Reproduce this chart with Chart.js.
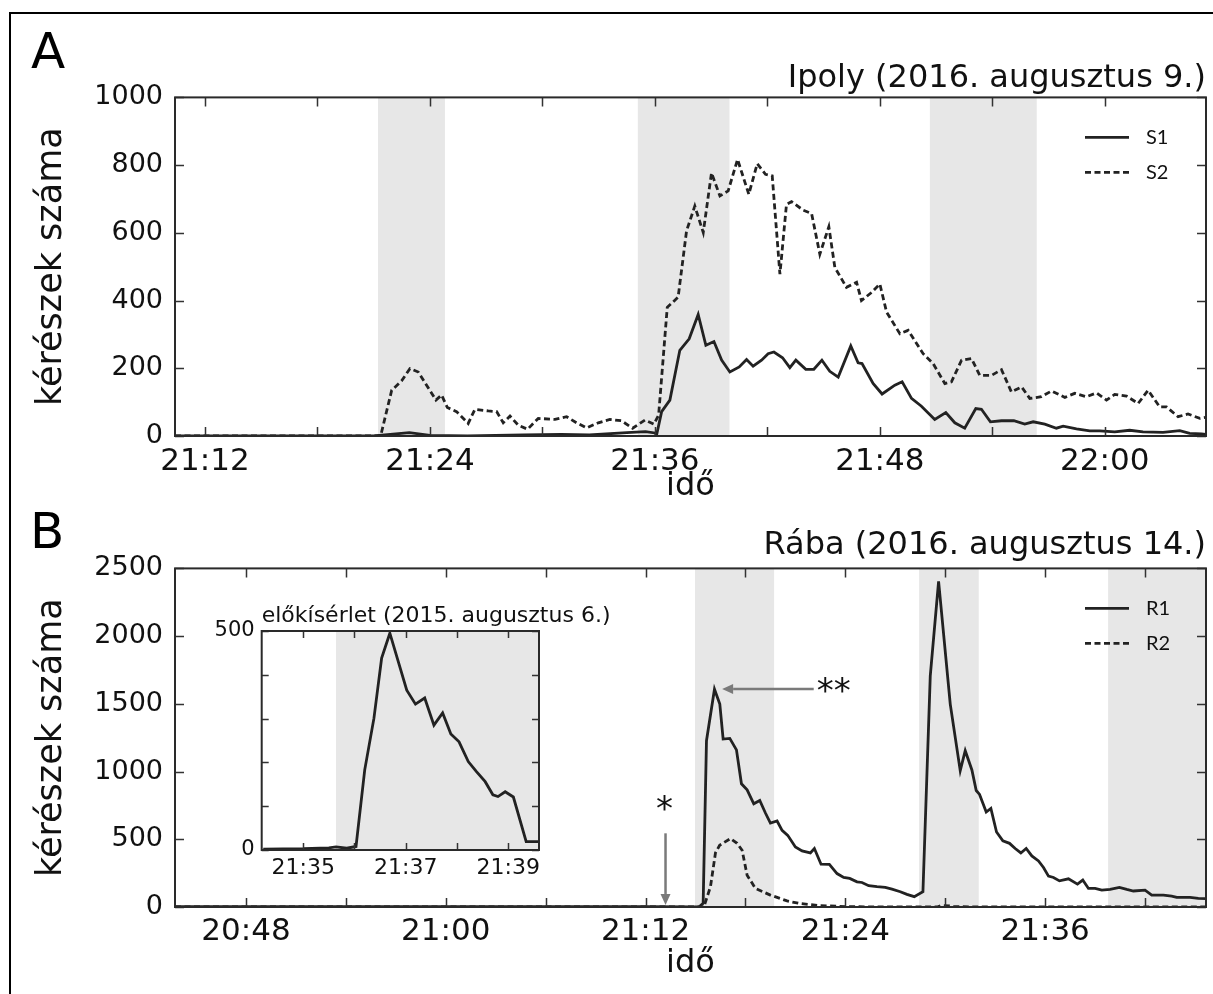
<!DOCTYPE html>
<html>
<head>
<meta charset="utf-8">
<script src="https://cdn.jsdelivr.net/npm/chart.js@4.4.1/dist/chart.umd.min.js"></script>
<style>
  html, body { margin: 0; padding: 0; background: #fff; }
  #page { position: relative; width: 1213px; height: 994px; overflow: hidden; }
  #frame { position: absolute; left: 9px; top: 12px; width: 1300px; height: 1100px; border: 2px solid #000; box-sizing: border-box; }
  canvas { position: absolute; }
  .letter { position: absolute; font-family: "DejaVu Sans"; font-size: 50px; line-height: 1; color: #000; }
</style>
</head>
<body>
<div id="page">
  <div id="frame"></div>
  <div class="letter" style="left:31px; top:26px;">A</div>
  <div class="letter" style="left:30px; top:506px;">B</div>
  <canvas id="chartA" width="1213" height="510" style="left:0; top:0; width:1213px; height:510px;"></canvas>
  <canvas id="chartB" width="1213" height="494" style="left:0; top:500px; width:1213px; height:494px;"></canvas>
  <canvas id="chartInset" width="450" height="300" style="left:200px; top:585px; width:450px; height:300px;"></canvas>
</div>
<script>
// Times are minutes after 20:00; counts are mayfly (kérész) numbers per sample.

// Ipoly, 2016-08-09
const s1Times  = [70.4, 81.0, 82.9, 84.0, 86.0, 89.0, 91.0, 92.5, 94.5, 95.5, 96.0, 96.09, 96.36, 96.8, 97.33, 97.83, 98.31, 98.72, 99.15, 99.56, 100.0, 100.5, 100.89, 101.24, 101.69, 102.04, 102.35, 102.81, 103.2, 103.52, 104.05, 104.48, 104.91, 105.33, 105.78, 106.45, 106.84, 107.05, 107.64, 108.12, 108.8, 109.19, 109.69, 110.22, 110.93, 111.52, 112.0, 112.53, 113.12, 113.42, 113.9, 114.49, 115.15, 115.73, 116.18, 116.8, 117.42, 117.78, 118.49, 119.2, 119.73, 120.53, 121.33, 122.04, 123.11, 124.0, 124.53, 125.16, 125.4];
const s1Counts = [0, 0, 10, 2, 0, 3, 5, 3, 10, 13, 9, 3, 72, 106, 253, 287, 359, 268, 279, 224, 189, 204, 226, 206, 224, 243, 248, 231, 202, 224, 197, 197, 224, 191, 174, 266, 216, 214, 155, 124, 150, 160, 111, 88, 49, 69, 39, 23, 81, 79, 42, 45, 45, 35, 42, 35, 23, 29, 21, 15, 15, 12, 17, 12, 11, 16, 8, 6, 5];
const s2Times  = [70.4, 81.37, 81.96, 82.49, 82.93, 83.38, 84.32, 84.62, 84.93, 85.42, 86.04, 86.4, 87.11, 87.56, 87.91, 88.27, 88.71, 89.21, 89.78, 90.67, 91.29, 91.82, 92.36, 92.98, 93.6, 94.22, 94.81, 95.47, 95.95, 96.2, 96.66, 97.24, 97.69, 98.13, 98.58, 99.02, 99.47, 99.91, 100.41, 101.01, 101.46, 101.9, 102.26, 102.67, 103.02, 103.29, 103.91, 104.36, 104.8, 105.28, 105.6, 106.22, 106.76, 107.02, 107.56, 108.0, 108.36, 109.07, 109.51, 110.31, 110.84, 111.47, 111.82, 112.36, 112.89, 113.33, 113.96, 114.49, 115.02, 115.56, 116.0, 116.62, 117.16, 117.87, 118.4, 119.02, 119.56, 120.09, 120.53, 121.16, 121.78, 122.31, 122.93, 123.29, 123.91, 124.44, 125.07, 125.4];
const s2Counts = [0, 0, 135, 163, 199, 189, 106, 121, 84, 72, 37, 79, 74, 72, 39, 59, 32, 20, 52, 49, 57, 39, 24, 39, 49, 45, 23, 47, 35, 62, 380, 410, 606, 679, 601, 777, 709, 724, 817, 714, 804, 773, 768, 478, 684, 692, 667, 657, 537, 618, 498, 439, 454, 400, 424, 449, 366, 302, 312, 243, 214, 155, 160, 224, 229, 179, 179, 196, 130, 145, 111, 116, 133, 114, 126, 116, 127, 106, 123, 118, 96, 135, 86, 86, 57, 65, 52, 55];

// Rába, 2016-08-14
const r1Times  = [43.74, 60.0, 72.0, 75.2, 75.46, 75.66, 76.14, 76.46, 76.66, 77.06, 77.46, 77.76, 78.1, 78.5, 78.86, 79.2, 79.5, 79.9, 80.2, 80.54, 81.0, 81.4, 81.9, 82.14, 82.54, 83.04, 83.5, 83.9, 84.26, 84.7, 85.0, 85.4, 85.9, 86.4, 86.8, 87.3, 87.7, 88.14, 88.66, 89.1, 89.6, 90.3, 90.9, 91.2, 91.6, 91.86, 92.06, 92.46, 92.74, 93.08, 93.46, 93.86, 94.2, 94.54, 94.86, 95.2, 95.6, 95.9, 96.2, 96.5, 96.86, 97.4, 97.94, 98.26, 98.6, 99.0, 99.4, 99.9, 100.46, 100.9, 101.3, 102.0, 102.4, 103.1, 103.6, 103.9, 104.7, 105.2, 105.66];
const r1Counts = [2, 3, 2, 0, 27, 1228, 1608, 1498, 1240, 1245, 1160, 910, 865, 762, 787, 694, 620, 635, 566, 529, 443, 414, 399, 432, 316, 314, 247, 218, 211, 186, 181, 157, 150, 145, 132, 113, 93, 76, 113, 1706, 2404, 1498, 1007, 1154, 1012, 860, 831, 701, 728, 554, 488, 470, 432, 399, 432, 377, 340, 292, 228, 218, 193, 208, 169, 199, 137, 137, 125, 130, 145, 130, 118, 125, 88, 88, 81, 71, 71, 64, 62];
const r2Times  = [43.74, 75.5, 75.9, 76.2, 76.45, 77.1, 77.5, 77.8, 78.1, 78.6, 79.5, 80.5, 81.2, 82.5, 84.0, 86.0, 89.5, 89.8, 90.5, 91.5, 105.66];
const r2Counts = [0, 0, 150, 400, 456, 505, 470, 419, 235, 137, 88, 45, 27, 10, 3, 0, 0, 12, 5, 0, 0];

// előkísérlet, 2015-08-06
const pilotTimes  = [94.22, 95.0, 95.5, 95.64, 95.85, 96.03, 96.2, 96.38, 96.53, 96.69, 97.02, 97.19, 97.37, 97.55, 97.72, 97.88, 98.04, 98.22, 98.38, 98.55, 98.7, 98.8, 98.94, 99.1, 99.35, 99.6];
const pilotCounts = [2, 3, 5, 7, 4, 8, 183, 301, 438, 495, 365, 333, 347, 285, 313, 265, 247, 202, 179, 156, 126, 122, 133, 121, 19, 19];

// swarming windows shaded on each panel [from, to]
const ipolyShade = [[81.23, 84.8], [95.09, 99.98], [110.67, 116.37]];
const rabaShade  = [[74.97, 79.72], [88.43, 92.01], [99.78, 106]];
const pilotShade = [[95.64, 100]];

const FONT = 'DejaVu Sans';
const INK = '#111';
const LINE = '#222';
const DASH = [6, 3.5];

function hhmm(v) {
  const total = Math.round((20 * 60 + v) * 60) / 60;
  const h = Math.floor(total / 60);
  const m = Math.round(total - h * 60);
  return h + ':' + String(m).padStart(2, '0');
}

function pts(times, counts) {
  return times.map((t, i) => ({ x: t, y: counts[i] }));
}

// shading, inner tick marks, plot frame, legend and arrows
const decor = {
  id: 'decor',
  beforeDraw(chart, args, o) {
    const a = chart.chartArea, ctx = chart.ctx;
    if (o.plotBg) {
      ctx.save();
      ctx.fillStyle = o.plotBg;
      ctx.fillRect(a.left, a.top, a.right - a.left, a.bottom - a.top);
      ctx.restore();
    }
  },
  beforeDatasetsDraw(chart, args, o) {
    const a = chart.chartArea, ctx = chart.ctx, xs = chart.scales.x;
    ctx.save();
    ctx.beginPath();
    ctx.rect(a.left, a.top, a.right - a.left, a.bottom - a.top);
    ctx.clip();
    ctx.fillStyle = '#e7e7e7';
    (o.shade || []).forEach(([from, to]) => {
      const x0 = xs.getPixelForValue(from), x1 = xs.getPixelForValue(to);
      ctx.fillRect(x0, a.top, x1 - x0, a.bottom - a.top);
    });
    ctx.restore();
  },
  afterDatasetsDraw(chart, args, o) {
    const a = chart.chartArea, ctx = chart.ctx, xs = chart.scales.x, ys = chart.scales.y;
    const L = o.tickLen || 9;
    ctx.save();
    ctx.strokeStyle = '#333';
    ctx.lineWidth = 1.5;
    ctx.beginPath();
    xs.ticks.forEach(t => {
      const px = Math.round(xs.getPixelForValue(t.value)) + 0.5;
      ctx.moveTo(px, a.bottom); ctx.lineTo(px, a.bottom - L);
      ctx.moveTo(px, a.top); ctx.lineTo(px, a.top + L);
    });
    ys.ticks.forEach(t => {
      const py = Math.round(ys.getPixelForValue(t.value)) + 0.5;
      ctx.moveTo(a.left, py); ctx.lineTo(a.left + L, py);
      ctx.moveTo(a.right, py); ctx.lineTo(a.right - L, py);
    });
    ctx.stroke();
    ctx.lineWidth = 2;
    ctx.strokeStyle = '#2a2a2a';
    ctx.strokeRect(a.left, a.top, a.right - a.left, a.bottom - a.top);

    // arrows
    ctx.strokeStyle = '#7a7a7a';
    ctx.fillStyle = '#7a7a7a';
    ctx.lineWidth = 2.5;
    (o.arrows || []).forEach(ar => {
      const x0 = xs.getPixelForValue(ar.from[0]), y0 = ys.getPixelForValue(ar.from[1]);
      const x1 = xs.getPixelForValue(ar.to[0]), y1 = ys.getPixelForValue(ar.to[1]);
      const ang = Math.atan2(y1 - y0, x1 - x0);
      const hl = 11, hw = 5;
      ctx.beginPath();
      ctx.moveTo(x0, y0);
      ctx.lineTo(x1 - Math.cos(ang) * hl, y1 - Math.sin(ang) * hl);
      ctx.stroke();
      ctx.beginPath();
      ctx.moveTo(x1, y1);
      ctx.lineTo(x1 - Math.cos(ang) * hl - Math.sin(ang) * hw, y1 - Math.sin(ang) * hl + Math.cos(ang) * hw);
      ctx.lineTo(x1 - Math.cos(ang) * hl + Math.sin(ang) * hw, y1 - Math.sin(ang) * hl - Math.cos(ang) * hw);
      ctx.closePath();
      ctx.fill();
      if (ar.label) {
        ctx.fillStyle = '#111';
        ctx.font = '34px "' + FONT + '"';
        ctx.textBaseline = 'middle';
        if (ar.labelAt === 'tail-right') {
          ctx.textAlign = 'left';
          ctx.fillText(ar.label, x0 + 3, y0 + 4);
        } else {
          ctx.textAlign = 'center';
          ctx.fillText(ar.label, x0 - 1, y0 - 22);
        }
        ctx.fillStyle = '#7a7a7a';
      }
    });

    // legend inside the plot, top right
    if (o.legend) {
      ctx.font = '20px Lato';
      ctx.textAlign = 'left';
      ctx.textBaseline = 'middle';
      chart.data.datasets.forEach((ds, i) => {
        const y = a.top + 40 + i * 35;
        ctx.strokeStyle = LINE;
        ctx.lineWidth = 2.8;
        ctx.setLineDash(ds.borderDash || []);
        ctx.beginPath();
        ctx.moveTo(a.right - 121, y);
        ctx.lineTo(a.right - 77, y);
        ctx.stroke();
        ctx.setLineDash([]);
        ctx.fillStyle = INK;
        ctx.fillText(ds.label, a.right - 60, y);
      });
    }

    if (o.caption) {
      ctx.font = o.caption.size + 'px "' + FONT + '"';
      ctx.fillStyle = INK;
      ctx.textAlign = 'left';
      ctx.textBaseline = 'alphabetic';
      ctx.fillText(o.caption.text, a.left, a.top - 9);
    }
    ctx.restore();
  }
};

function lineSet(label, data, dashed) {
  return {
    label, data,
    borderColor: LINE,
    borderWidth: 2.8,
    borderDash: dashed ? DASH : [],
    pointRadius: 0,
    tension: 0,
    fill: false
  };
}

function panel(canvasId, p) {
  return new Chart(document.getElementById(canvasId), {
    type: 'line',
    data: { datasets: p.datasets },
    plugins: [decor],
    options: {
      responsive: false,
      animation: false,
      devicePixelRatio: 1,
      parsing: false,
      layout: { padding: p.padding },
      plugins: {
        legend: { display: false },
        tooltip: { enabled: false },
        title: p.title ? {
          display: true, text: p.title, align: 'end', color: INK,
          font: { family: FONT, size: 32, weight: 'normal' },
          padding: p.titlePad
        } : { display: false },
        decor: p.decor
      },
      scales: {
        x: {
          type: 'linear', min: p.xMin, max: p.xMax,
          grid: { display: false, drawTicks: false },
          border: { display: false },
          ticks: {
            stepSize: p.xStep, includeBounds: false, autoSkip: false, maxRotation: 0,
            color: INK, padding: p.xPad,
            font: { family: FONT, size: p.xTickSize },
            callback: v => (Math.round(v) % p.xLabelEvery === p.xLabelPhase ? hhmm(v) : '')
          },
          title: p.xTitle ? {
            display: true, text: p.xTitle, color: INK,
            font: { family: FONT, size: 32 }, padding: { top: 0, bottom: p.xTitlePad }
          } : { display: false },
          afterFit: s => { s.height = p.xHeight; }
        },
        y: {
          min: 0, max: p.yMax,
          grid: { display: false, drawTicks: false },
          border: { display: false },
          ticks: {
            stepSize: p.yStep, color: INK, padding: p.yPad,
            font: { family: FONT, size: p.yTickSize },
            callback: p.yLabel || (v => v)
          },
          title: p.yTitle ? {
            display: true, text: p.yTitle, color: INK,
            font: { family: FONT, size: 35 }, padding: { top: p.yTitlePad, bottom: 0 }
          } : { display: false },
          afterFit: s => { s.width = p.yWidth; }
        }
      }
    }
  });
}

panel('chartA', {
  datasets: [lineSet('S1', pts(s1Times, s1Counts), false), lineSet('S2', pts(s2Times, s2Counts), true)],
  title: 'Ipoly (2016. augusztus 9.)',
  titlePad: { top: 59, bottom: 0 },
  padding: { left: 0, right: 7, top: 0, bottom: 0 },
  xMin: 70.4, xMax: 125.4, xStep: 6, xLabelEvery: 12, xLabelPhase: 0,
  yMax: 1000, yStep: 200,
  xTickSize: 31, yTickSize: 27, xPad: 7, yPad: 12,
  xTitle: 'idő', xTitlePad: 4, xHeight: 74,
  yTitle: 'kérészek száma', yTitlePad: 31, yWidth: 175,
  decor: { shade: ipolyShade, legend: true }
});

panel('chartB', {
  datasets: [lineSet('R1', pts(r1Times, r1Counts), false), lineSet('R2', pts(r2Times, r2Counts), true)],
  title: 'Rába (2016. augusztus 14.)',
  titlePad: { top: 26, bottom: 4 },
  padding: { left: 0, right: 7, top: 0, bottom: 0 },
  xMin: 43.74, xMax: 105.66, xStep: 6, xLabelEvery: 12, xLabelPhase: 0,
  yMax: 2500, yStep: 500,
  xTickSize: 31, yTickSize: 27, xPad: 6, yPad: 12,
  xTitle: 'idő', xTitlePad: 11, xHeight: 87,
  yTitle: 'kérészek száma', yTitlePad: 31, yWidth: 175,
  decor: {
    shade: rabaShade, legend: true,
    arrows: [
      { from: [73.2, 544], to: [73.2, 15], label: '*', labelAt: 'above' },
      { from: [82.1, 1610], to: [76.6, 1610], label: '**', labelAt: 'tail-right' }
    ]
  }
});

panel('chartInset', {
  datasets: [lineSet('előkísérlet', pts(pilotTimes, pilotCounts), false)],
  title: null,
  padding: { left: 0, right: 111, top: 46, bottom: 0 },
  xMin: 94.19, xMax: 99.6, xStep: 1, xLabelEvery: 2, xLabelPhase: 1,
  yMax: 500, yStep: 100,
  xTickSize: 22, yTickSize: 21, xPad: 5, yPad: 7,
  xTitle: null, xHeight: 35,
  yTitle: null, yWidth: 61.7,
  yLabel: v => (v === 0 || v === 500 ? v : ''),
  decor: { shade: pilotShade, plotBg: '#fff', tickLen: 7, caption: { text: 'előkísérlet (2015. augusztus 6.)', size: 22 } }
});
</script>
</body>
</html>
